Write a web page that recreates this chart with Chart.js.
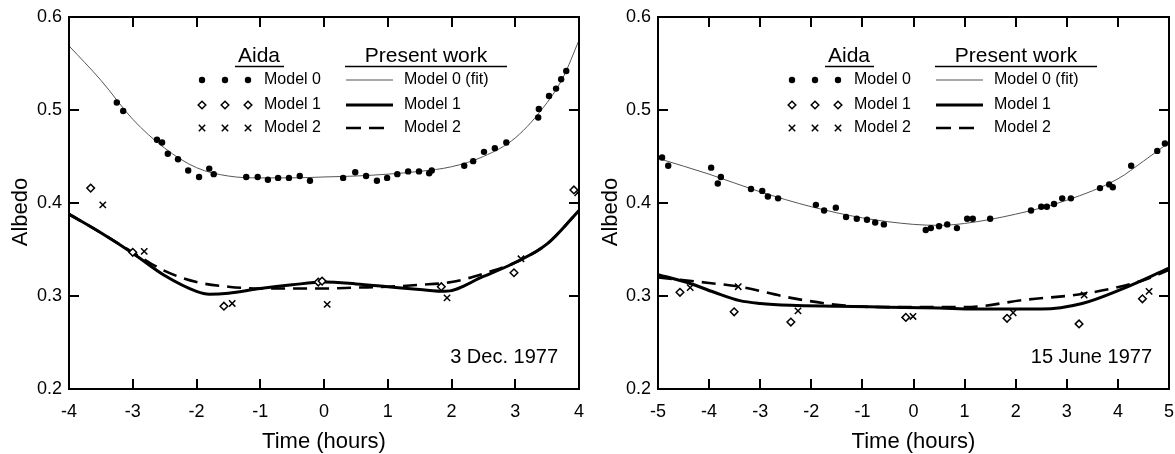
<!DOCTYPE html>
<html>
<head>
<meta charset="utf-8">
<script src="https://cdn.jsdelivr.net/npm/chart.js@4/dist/chart.umd.min.js"></script>
<style>
html,body{margin:0;padding:0;background:#fff;}
#wrap{position:relative;width:1175px;height:454px;}
#c1{position:absolute;left:0;top:0;}
#c2{position:absolute;left:590px;top:0;}
</style>
</head>
<body>
<div id="wrap">
<canvas id="c1" width="590" height="454"></canvas>
<canvas id="c2" width="585" height="454"></canvas>
</div>
<script>
// ---------- Data: 3 Dec. 1977 ----------
const decAida0X = [-3.25,-3.15,-2.62,-2.54,-2.45,-2.29,-2.13,-1.96,-1.80,-1.73,-1.22,-1.04,-0.88,-0.72,-0.55,-0.38,-0.22,0.30,0.49,0.66,0.83,0.99,1.15,1.32,1.49,1.65,1.69,2.20,2.34,2.51,2.68,2.86,3.36,3.37,3.53,3.64,3.72,3.80];
const decAida0Y = [0.508,0.499,0.468,0.465,0.453,0.447,0.435,0.428,0.437,0.431,0.428,0.428,0.425,0.427,0.427,0.429,0.424,0.427,0.433,0.429,0.424,0.427,0.431,0.434,0.434,0.432,0.435,0.440,0.445,0.455,0.459,0.465,0.492,0.501,0.515,0.523,0.533,0.542];
const decAida1X = [-3.66,-3.00,-1.57,-0.09,-0.03,1.84,2.98,3.92];
const decAida1Y = [0.416,0.347,0.289,0.315,0.316,0.310,0.325,0.414];
const decAida2X = [-3.47,-2.82,-1.44,0.05,1.93,3.09,3.98];
const decAida2Y = [0.398,0.348,0.292,0.291,0.298,0.340,0.411];
const decFit0X = [-4,-3.5,-3,-2.5,-2,-1.5,-1,-0.5,0,0.5,1,1.5,2,2.5,3,3.5,3.75,4];
const decFit0Y = [0.569,0.532,0.490,0.459,0.438,0.429,0.427,0.427,0.428,0.429,0.431,0.434,0.439,0.450,0.470,0.508,0.535,0.575];
const decMod1X = [-4,-3.5,-3,-2.5,-2,-1.8,-1.5,-1,-0.5,0,0.5,1,1.5,1.9,2.5,3,3.5,4];
const decMod1Y = [0.388,0.368,0.346,0.322,0.305,0.302,0.303,0.308,0.312,0.315,0.313,0.310,0.307,0.305,0.321,0.336,0.356,0.392];
const decMod2X = [-4,-3.5,-3,-2.5,-2,-1.5,-1,-0.5,0,0.5,1,1.5,2,2.5,3,3.5,4];
const decMod2Y = [0.388,0.368,0.347,0.327,0.315,0.310,0.308,0.308,0.308,0.309,0.310,0.312,0.315,0.324,0.336,0.356,0.392];

// ---------- Data: 15 June 1977 ----------
const junAida0X = [-4.92,-4.80,-3.96,-3.83,-3.77,-3.18,-2.96,-2.85,-2.65,-1.91,-1.75,-1.52,-1.32,-1.11,-0.91,-0.75,-0.58,0.24,0.34,0.50,0.66,0.85,1.05,1.16,1.50,2.30,2.50,2.61,2.75,2.91,3.08,3.65,3.83,3.90,4.26,4.77,4.92];
const junAida0Y = [0.449,0.440,0.438,0.421,0.428,0.415,0.413,0.407,0.405,0.398,0.392,0.395,0.385,0.383,0.382,0.379,0.377,0.371,0.373,0.375,0.377,0.373,0.383,0.383,0.383,0.392,0.396,0.396,0.399,0.405,0.405,0.416,0.420,0.417,0.440,0.456,0.464];
const junAida1X = [-4.57,-3.51,-2.40,-0.15,1.83,3.24,4.48];
const junAida1Y = [0.304,0.283,0.272,0.277,0.276,0.270,0.297];
const junAida2X = [-4.37,-3.43,-2.26,-0.01,1.95,3.34,4.61];
const junAida2Y = [0.309,0.310,0.284,0.278,0.282,0.301,0.305];
const junFit0X = [-5,-4,-3,-2,-1,0,0.5,1,2,3,4,4.5,5];
const junFit0Y = [0.448,0.431,0.412,0.396,0.384,0.377,0.376,0.378,0.388,0.403,0.426,0.445,0.465];
const junMod1X = [-5,-4.4,-3.9,-3.4,-3,-2.4,-1.5,-0.5,0.5,1.2,2.5,3.3,4.1,5];
const junMod1Y = [0.323,0.314,0.304,0.295,0.292,0.290,0.289,0.288,0.287,0.286,0.286,0.292,0.308,0.330];
const junMod2X = [-5,-4,-3.4,-2.4,-1.4,-0.5,0.5,1,2.2,3.4,4.5,5];
const junMod2Y = [0.320,0.314,0.310,0.298,0.290,0.288,0.288,0.288,0.296,0.303,0.317,0.328];

// ---------- Text ----------
const yTickLabels = ['0.2','0.3','0.4','0.5','0.6'];
const yAxisTitle = 'Albedo';
const xAxisTitle = 'Time (hours)';
const legendAidaTitle = 'Aida';
const legendPresentTitle = 'Present work';
const legendAidaLabels = ['Model 0','Model 1','Model 2'];
const legendPresentLabels = ['Model 0 (fit)','Model 1','Model 2'];
const panelDates = ['3 Dec. 1977','15 June 1977'];

const FONT = "'Liberation Sans', Arial, Helvetica, sans-serif";

function pts(xs, ys){ return xs.map((x,i)=>({x:x, y:ys[i]})); }

function drawMarker(ctx, kind, x, y){
  ctx.save();
  ctx.strokeStyle = '#000'; ctx.fillStyle = '#000'; ctx.lineWidth = 1.5;
  if (kind === 'dot'){
    ctx.beginPath(); ctx.arc(x, y, 3.2, 0, Math.PI*2); ctx.fill();
  } else if (kind === 'diamond'){
    const r = 3.8;
    ctx.fillStyle = '#fff';
    ctx.beginPath(); ctx.moveTo(x, y-r); ctx.lineTo(x+r, y); ctx.lineTo(x, y+r); ctx.lineTo(x-r, y); ctx.closePath();
    ctx.fill(); ctx.stroke();
  } else {
    const r = 3.2;
    ctx.beginPath(); ctx.moveTo(x-r, y-r); ctx.lineTo(x+r, y+r); ctx.moveTo(x+r, y-r); ctx.lineTo(x-r, y+r); ctx.stroke();
  }
  ctx.restore();
}

const framePlugin = {
  id: 'frame',
  afterDatasetsDraw(chart, args, opts){
    const ctx = chart.ctx, a = chart.chartArea;
    const xs = chart.scales.x, ys = chart.scales.y;
    ctx.save();
    ctx.strokeStyle = '#000'; ctx.lineWidth = 2;
    ctx.strokeRect(a.left, a.top, a.right - a.left, a.bottom - a.top);
    const L = 10;
    ctx.beginPath();
    xs.ticks.forEach(t => {
      if (t.value <= xs.min || t.value >= xs.max) return;
      const px = Math.round(xs.getPixelForValue(t.value));
      ctx.moveTo(px, a.bottom); ctx.lineTo(px, a.bottom - L);
      ctx.moveTo(px, a.top); ctx.lineTo(px, a.top + L);
    });
    ys.ticks.forEach(t => {
      if (t.value <= ys.min + 1e-9 || t.value >= ys.max - 1e-9) return;
      const py = Math.round(ys.getPixelForValue(t.value));
      ctx.moveTo(a.left, py); ctx.lineTo(a.left + L, py);
      ctx.moveTo(a.right, py); ctx.lineTo(a.right - L, py);
    });
    ctx.stroke();

    // Y axis title (rotated)
    ctx.save();
    ctx.fillStyle = '#000';
    ctx.font = '22px ' + FONT;
    ctx.textAlign = 'center';
    ctx.textBaseline = 'middle';
    ctx.translate(21, 212);
    ctx.rotate(-Math.PI/2);
    ctx.fillText(yAxisTitle, 0, 0);
    ctx.restore();

    // Legend
    const rows = [80, 105, 128];
    const mk = ['dot','diamond','cross'];
    ctx.fillStyle = '#000';
    ctx.textBaseline = 'middle';
    ctx.font = '21px ' + FONT;
    ctx.textAlign = 'center';
    ctx.fillText(legendAidaTitle, 259, 56);
    ctx.fillText(legendPresentTitle, 426, 56);
    ctx.lineWidth = 1.5;
    ctx.beginPath();
    ctx.moveTo(235, 66.5); ctx.lineTo(284, 66.5);
    ctx.moveTo(345, 66.5); ctx.lineTo(507, 66.5);
    ctx.stroke();
    ctx.font = '16px ' + FONT;
    ctx.textAlign = 'left';
    rows.forEach((ry, i) => {
      [202, 225, 248].forEach(mx => drawMarker(ctx, mk[i], mx, ry));
      ctx.fillText(legendAidaLabels[i], 264, ry);
      ctx.fillText(legendPresentLabels[i], 404, ry);
    });
    // legend line samples
    ctx.beginPath(); ctx.strokeStyle = '#555'; ctx.lineWidth = 1;
    ctx.moveTo(346, rows[0]); ctx.lineTo(393, rows[0]); ctx.stroke();
    ctx.beginPath(); ctx.strokeStyle = '#000'; ctx.lineWidth = 3;
    ctx.moveTo(346, rows[1]); ctx.lineTo(393, rows[1]); ctx.stroke();
    ctx.beginPath(); ctx.lineWidth = 2.6; ctx.setLineDash([15, 8]);
    ctx.moveTo(346, rows[2]); ctx.lineTo(384, rows[2]); ctx.stroke();
    ctx.setLineDash([]);

    // Date label
    ctx.font = '20px ' + FONT;
    ctx.textAlign = 'right';
    ctx.fillText(opts.date, opts.dateRight, 357);
    ctx.restore();
  }
};

function makeChart(id, cfg){
  const ds = [
    {label:'Aida Model 0', data: pts(cfg.a0x, cfg.a0y), showLine:false, pointStyle:'circle', pointRadius:3.2, pointBorderWidth:0, backgroundColor:'#000', borderColor:'#000'},
    {label:'Aida Model 1', data: pts(cfg.a1x, cfg.a1y), showLine:false, pointStyle:'rectRot', pointRadius:3.8, pointBorderWidth:1.5, backgroundColor:'#fff', borderColor:'#000'},
    {label:'Aida Model 2', data: pts(cfg.a2x, cfg.a2y), showLine:false, pointStyle:'crossRot', pointRadius:4.5, pointBorderWidth:1.5, backgroundColor:'#000', borderColor:'#000'},
    {label:'Model 0 (fit)', data: pts(cfg.f0x, cfg.f0y), showLine:true, pointRadius:0, borderColor:'#555', borderWidth:1, cubicInterpolationMode:'monotone'},
    {label:'Model 1', data: pts(cfg.m1x, cfg.m1y), showLine:true, pointRadius:0, borderColor:'#000', borderWidth:3, cubicInterpolationMode:'monotone'},
    {label:'Model 2', data: pts(cfg.m2x, cfg.m2y), showLine:true, pointRadius:0, borderColor:'#000', borderWidth:2.6, borderDash:[14,8], cubicInterpolationMode:'monotone'}
  ];
  return new Chart(document.getElementById(id), {
    type: 'scatter',
    data: { datasets: ds },
    options: {
      responsive:false, animation:false,
      layout:{ padding:{ left:0, right:cfg.padRight, top:17, bottom:0 } },
      plugins:{ legend:{display:false}, tooltip:{enabled:false}, frame:{ date:cfg.date, dateRight:cfg.dateRight } },
      scales:{
        x:{ type:'linear', min:cfg.xmin, max:cfg.xmax,
            grid:{display:false, drawTicks:false}, border:{display:false},
            ticks:{ stepSize:1, color:'#000', font:{family:FONT, size:18}, padding:12, maxRotation:0,
                    callback:(v)=> String(v) },
            title:{ display:true, text:xAxisTitle, color:'#000', font:{family:FONT, size:22, lineHeight:1}, padding:{top:0, bottom:1} },
            afterFit:(s)=>{ s.height = 65; s.paddingLeft = 0; s.paddingRight = 0; } },
        y:{ type:'linear', min:0.2, max:0.6,
            grid:{display:false, drawTicks:false}, border:{display:false},
            ticks:{ stepSize:0.1, color:'#000', font:{family:FONT, size:18}, padding:7,
                    callback:(v)=> yTickLabels[Math.round((v-0.2)*10)] },
            title:{ display:false },
            afterFit:(s)=>{ s.width = cfg.yWidth; s.paddingTop = 0; s.paddingBottom = 0; } }
      }
    },
    plugins:[framePlugin]
  });
}

makeChart('c1', { a0x:decAida0X, a0y:decAida0Y, a1x:decAida1X, a1y:decAida1Y, a2x:decAida2X, a2y:decAida2Y,
  f0x:decFit0X, f0y:decFit0Y, m1x:decMod1X, m1y:decMod1Y, m2x:decMod2X, m2y:decMod2Y,
  xmin:-4, xmax:4, padRight:11, yWidth:69, date:panelDates[0], dateRight:558 });
makeChart('c2', { a0x:junAida0X, a0y:junAida0Y, a1x:junAida1X, a1y:junAida1Y, a2x:junAida2X, a2y:junAida2Y,
  f0x:junFit0X, f0y:junFit0Y, m1x:junMod1X, m1y:junMod1Y, m2x:junMod2X, m2y:junMod2Y,
  xmin:-5, xmax:5, padRight:6, yWidth:68, date:panelDates[1], dateRight:562 });
</script>
</body>
</html>
